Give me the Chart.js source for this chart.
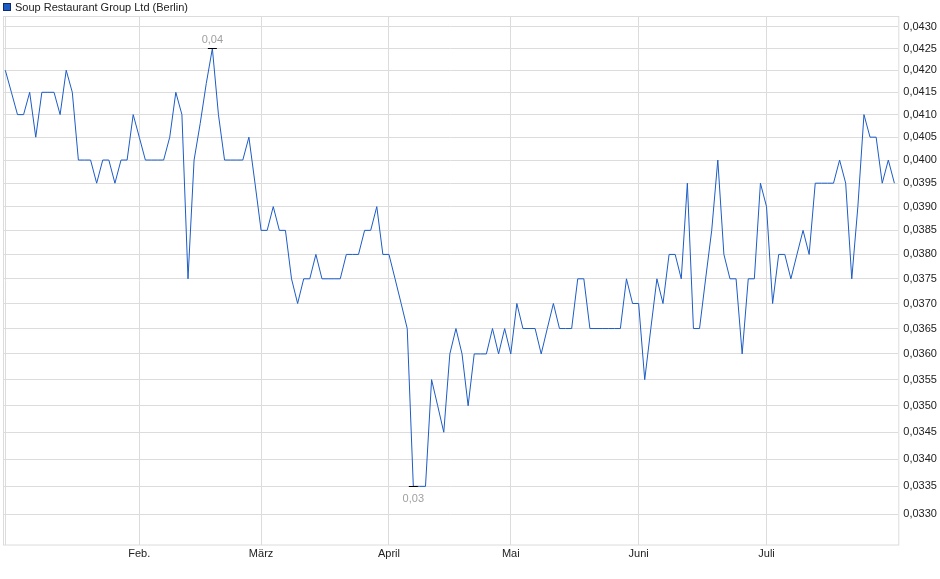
<!DOCTYPE html>
<html>
<head>
<meta charset="utf-8">
<script src="https://cdn.jsdelivr.net/npm/chart.js@4.4.1/dist/chart.umd.min.js"></script>
<style>
  html, body { margin: 0; padding: 0; background: #fff; }
  #wrap { width: 940px; height: 579px; }
</style>
</head>
<body>
<div id="wrap"><canvas id="chart" width="940" height="579"></canvas></div>
<script>
// series
const seriesName = 'Soup Restaurant Group Ltd (Berlin)';
const prices = [
  0.0420, 0.0415, 0.0410, 0.0410, 0.0415, 0.0405, 0.0415, 0.0415, 0.0415, 0.0410,
  0.0420, 0.0415, 0.0400, 0.0400, 0.0400, 0.0395, 0.0400, 0.0400, 0.0395, 0.0400,
  0.0400, 0.0410, 0.0405, 0.0400, 0.0400, 0.0400, 0.0400, 0.0405, 0.0415, 0.0410,
  0.0375, 0.0400, 0.0408, 0.0417, 0.0425, 0.0410, 0.0400, 0.0400, 0.0400, 0.0400,
  0.0405, 0.0395, 0.0385, 0.0385, 0.0390, 0.0385, 0.0385, 0.0375, 0.0370, 0.0375,
  0.0375, 0.0380, 0.0375, 0.0375, 0.0375, 0.0375, 0.0380, 0.0380, 0.0380, 0.0385,
  0.0385, 0.0390, 0.0380, 0.0380, 0.0375, 0.0370, 0.0365, 0.0335, 0.0335, 0.0335,
  0.0355, 0.0350, 0.0345, 0.0360, 0.0365, 0.0360, 0.0350, 0.0360, 0.0360, 0.0360,
  0.0365, 0.0360, 0.0365, 0.0360, 0.0370, 0.0365, 0.0365, 0.0365, 0.0360, 0.0365,
  0.0370, 0.0365, 0.0365, 0.0365, 0.0375, 0.0375, 0.0365, 0.0365, 0.0365, 0.0365,
  0.0365, 0.0365, 0.0375, 0.0370, 0.0370, 0.0355, 0.0365, 0.0375, 0.0370, 0.0380,
  0.0380, 0.0375, 0.0395, 0.0365, 0.0365, 0.0375, 0.0385, 0.0400, 0.0380, 0.0375,
  0.0375, 0.0360, 0.0375, 0.0375, 0.0395, 0.0390, 0.0370, 0.0380, 0.0380, 0.0375,
  0.0380, 0.0385, 0.0380, 0.0395, 0.0395, 0.0395, 0.0395, 0.0400, 0.0395, 0.0375,
  0.0390, 0.0410, 0.0405, 0.0405, 0.0395, 0.0400, 0.0395
];

// x axis: index of first trading day of each month
const monthTickIdx = [0, 22, 42, 63, 83, 104, 125];
const monthLabels = ['', 'Feb.', 'März', 'April', 'Mai', 'Juni', 'Juli'];

// y axis ticks (log scale)
const yTicks = [
  0.0330, 0.0335, 0.0340, 0.0345, 0.0350, 0.0355, 0.0360, 0.0365, 0.0370, 0.0375,
  0.0380, 0.0385, 0.0390, 0.0395, 0.0400, 0.0405, 0.0410, 0.0415, 0.0420, 0.0425, 0.0430
];
const yMin = 0.032458, yMax = 0.043257;

const lineColor = '#1c5cc6';
const gridColor = '#dcdcdc';
const fontFamily = '"Liberation Sans", Arial, sans-serif';

const fmt = (v, d) => v.toFixed(d).replace('.', ',');

// frame round the plot area
const framePlugin = {
  id: 'frame',
  beforeDatasetsDraw(chart) {
    const { ctx, chartArea: a } = chart;
    ctx.save();
    ctx.strokeStyle = gridColor;
    ctx.lineWidth = 1;
    ctx.strokeRect(a.left + 0.5, a.top + 0.5, a.right - a.left, a.bottom - a.top);
    ctx.restore();
  }
};

// legend square + name, top left
const legendPlugin = {
  id: 'topLegend',
  afterDraw(chart) {
    const ctx = chart.ctx;
    ctx.save();
    ctx.fillStyle = lineColor;
    ctx.fillRect(3, 3, 8, 8);
    ctx.strokeStyle = '#0c2c6e';
    ctx.lineWidth = 1;
    ctx.strokeRect(3.5, 3.5, 7, 7);
    ctx.fillStyle = '#222';
    ctx.font = '11px ' + fontFamily;
    ctx.textBaseline = 'middle';
    ctx.fillText(seriesName, 15, 7.5);
    ctx.restore();
  }
};

// high / low markers
const extremaPlugin = {
  id: 'extrema',
  afterDatasetsDraw(chart) {
    const { ctx, scales } = chart;
    let hi = 0, lo = 0;
    prices.forEach((v, i) => {
      if (v > prices[hi]) hi = i;
      if (v < prices[lo]) lo = i;
    });
    ctx.save();
    ctx.font = '11px ' + fontFamily;
    ctx.textAlign = 'center';
    ctx.textBaseline = 'middle';
    [[hi, -9], [lo, 12]].forEach(([i, dy]) => {
      const x = scales.x.getPixelForValue(i);
      const y = Math.round(scales.y.getPixelForValue(prices[i])) + 0.5;
      ctx.strokeStyle = '#000';
      ctx.lineWidth = 1;
      ctx.beginPath();
      ctx.moveTo(x - 4.5, y);
      ctx.lineTo(x + 4.5, y);
      ctx.stroke();
      ctx.fillStyle = '#a0a0a0';
      ctx.fillText(fmt(prices[i], 2), x, y + dy);
    });
    ctx.restore();
  }
};

new Chart(document.getElementById('chart').getContext('2d'), {
  type: 'line',
  data: {
    datasets: [{
      label: seriesName,
      data: prices.map((v, i) => ({ x: i, y: v })),
      borderColor: lineColor,
      borderWidth: 1,
      pointRadius: 0,
      tension: 0,
      fill: false
    }]
  },
  options: {
    responsive: false,
    animation: false,
    layout: { padding: { left: 3, top: 16, right: 0, bottom: 0 } },
    plugins: {
      legend: { display: false },
      tooltip: { enabled: false }
    },
    scales: {
      x: {
        type: 'linear',
        min: -0.38,
        max: 146.64,
        bounds: 'data',
        afterBuildTicks: s => {
          s.ticks = monthTickIdx.map(v => ({ value: v }));
          s.min = -0.38; s.max = 146.64;
        },
        afterFit: s => { s.height = 34.5; },
        grid: { color: gridColor, drawTicks: false },
        border: { display: false },
        ticks: {
          autoSkip: false,
          maxRotation: 0,
          padding: 3,
          color: '#222',
          font: { family: fontFamily, size: 11 },
          callback: v => monthLabels[monthTickIdx.indexOf(v)] || ''
        }
      },
      y: {
        type: 'logarithmic',
        position: 'right',
        min: yMin,
        max: yMax,
        bounds: 'data',
        afterBuildTicks: s => {
          s.ticks = yTicks.map(v => ({ value: v }));
          s.min = yMin; s.max = yMax;
        },
        afterFit: s => { s.width = 41.7; },
        grid: { color: gridColor, drawTicks: false },
        border: { display: false },
        ticks: {
          padding: 5,
          color: '#222',
          font: { family: fontFamily, size: 11 },
          callback: v => fmt(v, 4)
        }
      }
    }
  },
  plugins: [framePlugin, legendPlugin, extremaPlugin]
});
</script>
</body>
</html>
